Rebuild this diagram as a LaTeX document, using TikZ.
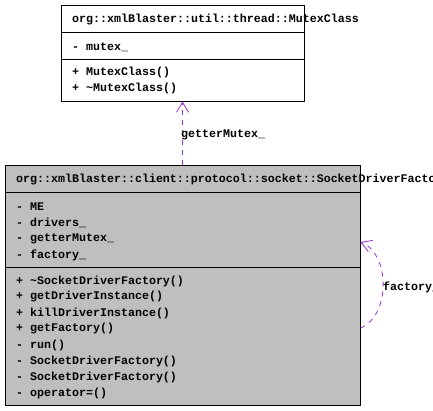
\documentclass[tikz,border=0pt]{standalone}
\usepackage{fontspec}
\usepackage{tikz}
\usetikzlibrary{arrows.meta}
\newfontfamily\umlfont{Liberation Mono}
\definecolor{orchidrel}{RGB}{154,50,205}
\definecolor{grisclasse}{RGB}{191,191,191}
\newcommand{\pas}{16}
\tikzstyle{boite}=[draw,line width=1pt,rectangle,inner sep=0pt]
\tikzstyle{membre}=[anchor=west,inner sep=0pt,font=\umlfont\bfseries\fontsize{11.65}{12}\selectfont]
\tikzstyle{relation}=[draw=orchidrel,dash pattern=on 5pt off 5pt,line width=0.8pt,-{Straight Barb[length=10pt,width=12pt]}]

\begin{document}
\begin{tikzpicture}[x=1pt,y=-1pt]
\useasboundingbox (0,0) rectangle (433,410);

% classe MutexClass
\node[boite,fill=white,minimum width=243,minimum height=96] (mutex) at (182.5,53) {};
\draw[line width=1pt] (61,32) -- (304,32);
\draw[line width=1pt] (61,59) -- (304,59);
\node[membre] (mutexTitre) at (72,20) {org::xmlBlaster::util::thread::MutexClass};
\node[membre] (mutexAttr) at (72,47) {- mutex\_};
\node[membre] (mutexCtor) at (72,72) {+ MutexClass()};
\node[membre] (mutexDtor) at (72,88) {+ \textasciitilde MutexClass()};

% classe SocketDriverFactory
\node[boite,fill=grisclasse,minimum width=355,minimum height=240] (sdf) at (182.5,285) {};
\draw[line width=1pt] (5,192) -- (360,192);
\draw[line width=1pt] (5,267) -- (360,267);
\node[membre] (sdfTitre) at (16,180) {org::xmlBlaster::client::protocol::socket::SocketDriverFactory};

\foreach \txt [count=\i from 0] in {ME,drivers\_,getterMutex\_,factory\_}
  \node[membre] (attr\i) at (16,207+\pas*\i) {- \txt};

\foreach \txt [count=\i from 0] in {+ \textasciitilde SocketDriverFactory(),+ getDriverInstance(),+ killDriverInstance(),+ getFactory(),- run(),- SocketDriverFactory(),- SocketDriverFactory(),- operator=()}
  \node[membre] (meth\i) at (16,281+\pas*\i) {\txt};

% relations
\path[relation] (sdf.north) -- (mutex.south);
\node[membre] (lblGetter) at (181,135) {getterMutex\_};

\path[relation] ([yshift=-43pt]sdf.east) .. controls +(30,-12) and +(30,12) .. ([yshift=43pt]sdf.east);
\node[membre] (lblFactory) at (383,287) {factory\_};

\end{tikzpicture}
\end{document}
